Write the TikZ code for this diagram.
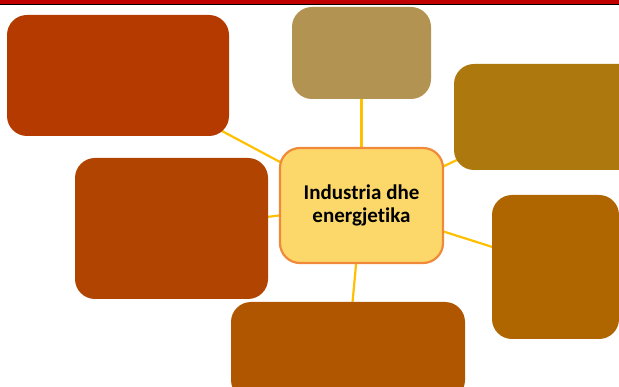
\documentclass[tikz,border=0pt]{standalone}
\usepackage{fontspec}
\setmainfont{Carlito}[Ligatures={NoCommon}]
\definecolor{cTL}{HTML}{B53A00}
\definecolor{cTC}{HTML}{B39352}
\definecolor{cRT}{HTML}{AD780E}
\definecolor{cLM}{HTML}{B14400}
\definecolor{cRB}{HTML}{B06600}
\definecolor{cBT}{HTML}{B05500}
\definecolor{cCF}{HTML}{FCD86A}
\definecolor{cCS}{HTML}{F08A3A}
\definecolor{cLn}{HTML}{FFC000}
\definecolor{cRed}{HTML}{C00000}
\begin{document}
\begin{tikzpicture}[x=1pt,y=-1pt,
  box/.style={rounded corners=20pt,inner sep=0pt},
  link/.style={draw=cLn,line width=2.2pt}]
\useasboundingbox (0,0) rectangle (619,387);
\clip (0,0) rectangle (619,387);
\fill[cRed] (0,0) rectangle (619,3.6);
\fill[black] (0,3.6) rectangle (619,5.2);
% nodes (positions only, drawn later)
\path
  (118,75.5) node[box,minimum width=222pt,minimum height=121pt] (tl) {}
  (361.5,53) node[box,minimum width=139pt,minimum height=92pt] (tc) {}
  (547,117) node[box,minimum width=186pt,minimum height=106pt] (rt) {}
  (171.5,228.5) node[box,minimum width=193pt,minimum height=141pt] (lm) {}
  (555.5,267) node[box,minimum width=127pt,minimum height=144pt] (rb) {}
  (348,351) node[box,minimum width=234pt,minimum height=98pt] (bt) {}
  (361.5,205.5) node[box,minimum width=165pt,minimum height=117pt] (c) {};
\foreach \n in {tl,tc,rt,lm,rb,bt}{\draw[link] (\n.center) -- (c.center);}
\path
  (118,75.5) node[box,fill=cTL,minimum width=222pt,minimum height=121pt] {}
  (361.5,53) node[box,fill=cTC,minimum width=139pt,minimum height=92pt] {}
  (547,117) node[box,fill=cRT,minimum width=186pt,minimum height=106pt] {}
  (171.5,228.5) node[box,fill=cLM,minimum width=193pt,minimum height=141pt] {}
  (555.5,267) node[box,fill=cRB,minimum width=127pt,minimum height=144pt] {}
  (348,351) node[box,fill=cBT,minimum width=234pt,minimum height=98pt] {};
\node[box,fill=cCF,draw=cCS,line width=2.2pt,minimum width=163pt,minimum height=115pt,
  align=center,font=\fontsize{21}{23.5}\selectfont\bfseries] at (361.5,205.5) {Industria dhe\\energjetika};
\end{tikzpicture}
\end{document}
